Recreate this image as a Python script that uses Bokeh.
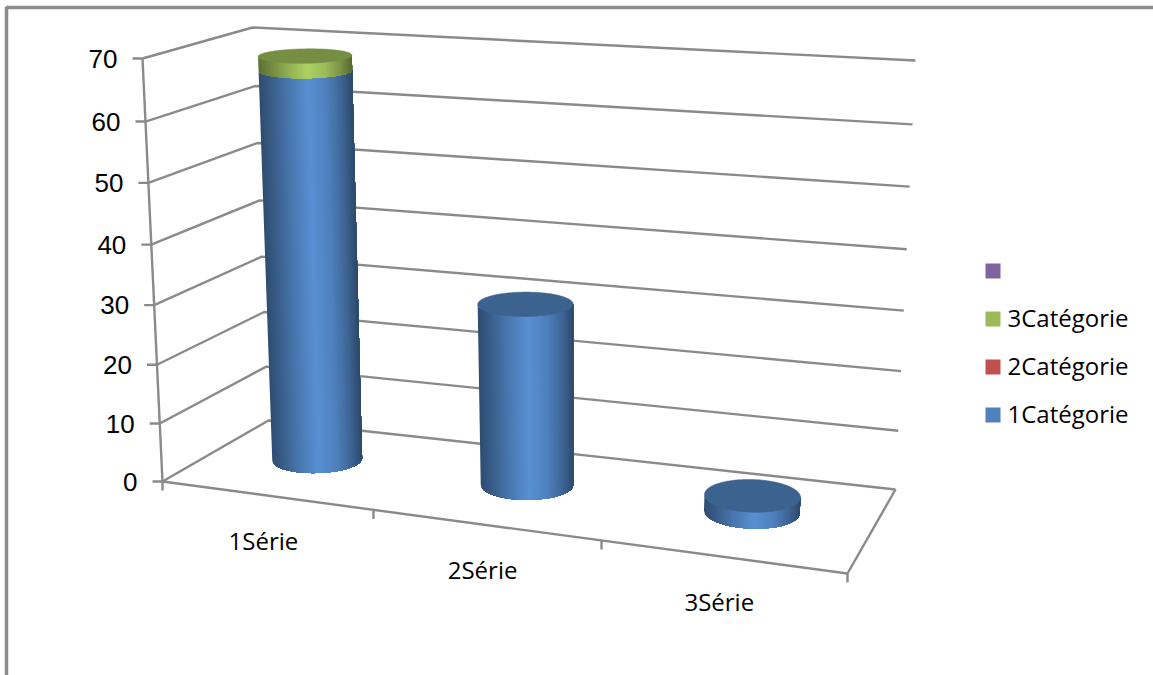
import numpy as np
from bokeh.core.properties import value
from bokeh.embed import file_html
from bokeh.models import ColumnDataSource
from bokeh.plotting import figure
from bokeh.resources import INLINE

# Chart data
categories = ["1Série", "2Série", "3Série"]
legend_labels = ["", "3Catégorie", "2Catégorie", "1Catégorie"]
legend_colors = ["#8064A2", "#9BBB59", "#C0504D", "#4F81BD"]
y_ticks = [0, 10, 20, 30, 40, 50, 60, 70]
categorie_1 = [66.2, 30.6, 2.7]
categorie_2 = [0.0, 0.0, 0.0]
categorie_3 = [2.4, 0.0, 0.0]
stack_series = [categorie_1, categorie_2, categorie_3]
stack_colors = ["#4F81BD", "#C0504D", "#9BBB59"]

GRID = "#8A8A8A"
W, H = 1153, 675

# Perspective of the chart box: one plane mapping for the floor, one for the ceiling,
# and the share of the height reached at each value axis tick.
# Plane coordinates: u along the categories, v into the depth.
PLANE_UV = [(0, 0), (1, 0), (1, 1), (0, 1)]
FLOOR_PAGE = [(162, 481), (847, 573), (895, 489), (268, 420)]
CEILING_PAGE = [(142, 58), (868, 111), (915, 60), (252, 27)]
HEIGHT_SHARE = [0, 0.137, 0.276, 0.417, 0.560, 0.706, 0.851, 1]
CATEGORY_TICK_PAGE = [(373, 509.3), (601, 540)]


def plane_map(uv, page):
    rows = []
    for (u, v), (x, y) in zip(uv, page):
        rows.append([u, v, 1, 0, 0, 0, -x * u, -x * v, -x])
        rows.append([0, 0, 0, u, v, 1, -y * u, -y * v, -y])
    return np.linalg.svd(np.array(rows, float))[2][-1].reshape(3, 3)


FLOOR = plane_map(PLANE_UV, FLOOR_PAGE)
CEILING = plane_map(PLANE_UV, CEILING_PAGE)

# Spacing along the categories follows the axis ticks on the front edge
floor_inverse = np.linalg.inv(FLOOR)
tick_u = []
for x, y in CATEGORY_TICK_PAGE:
    r = floor_inverse @ np.array([x, y, 1.0])
    tick_u.append(r[0] / r[2])
U_GRID = [0, 1 / 3, 2 / 3, 1]
U_STOPS = [0, tick_u[0], tick_u[1], 1]
# The ceiling leans a little differently, which keeps the column axes upright
LEAN_GRID = [0, 1 / 6, 1 / 2, 5 / 6, 1]
LEAN = [0, 0.0265, 0.034, 0.03, 0]


def apply_plane(m, u, v):
    r = m @ np.stack([u, v, np.ones_like(u)]).reshape(3, -1)
    return r[0] / r[2], r[1] / r[2]


def project(u, v, val):
    """Map plane coordinates and a height in chart units to page pixels."""
    u, v, val = np.broadcast_arrays(np.asarray(u, float), np.asarray(v, float), np.asarray(val, float))
    share = np.interp(val.ravel(), y_ticks, HEIGHT_SHARE)
    uf = np.interp(u.ravel(), U_GRID, U_STOPS)
    uc = uf + np.interp(u.ravel(), LEAN_GRID, LEAN)
    x0, y0 = apply_plane(FLOOR, uf, v.ravel())
    x1, y1 = apply_plane(CEILING, uc, v.ravel())
    return (x0 + share * (x1 - x0)).reshape(u.shape), (y0 + share * (y1 - y0)).reshape(u.shape)


p = figure(width=W, height=H, x_range=(0, W), y_range=(H, 0), min_border=0,
           toolbar_location=None, output_backend="svg", background_fill_color="white")
p.axis.visible = False
p.grid.visible = False
p.outline_line_color = None

# Frame around the chart area
p.line([6, 6, W], [H, 7, 7], line_color="#8C8C8C", line_width=3.5)

# Gridlines across the side wall and the back wall, plus the floor outline
Y_TOP = y_ticks[-1]
xs, ys = [], []
for t in y_ticks:
    gx, gy = project([0, 0, 1], [0, 1, 1], [t, t, t])
    xs.append(gx.tolist())
    ys.append(gy.tolist())
    # value axis tick
    xs.append([gx[0] - 10, gx[0]])
    ys.append([gy[0], gy[0]])
ax, ay = project([0, 0], [0, 0], [0, Y_TOP])
xs.append(ax.tolist()); ys.append(ay.tolist())
fx, fy = project([0, 1, 1], [0, 0, 1], [0, 0, 0])
xs.append(fx.tolist()); ys.append(fy.tolist())
for k in range(4):
    tx, ty = project(k / 3, 0, 0)
    xs.append([float(tx), float(tx)])
    ys.append([float(ty), float(ty) + 9])
p.multi_line(xs, ys, line_color=GRID, line_width=2.4)


def shade(hex_color, f):
    rgb = [int(hex_color[i:i + 2], 16) for i in (1, 3, 5)]
    return "#%02x%02x%02x" % tuple(min(255, int(c * f)) for c in rgb)


# Cylinders, stacked segment by segment. Each shading step paints from its own
# left edge through to the right silhouette, so neighbouring steps leave no seams.
RU, RV = 0.0665, 0.20
CV = 0.53
DU = -0.004
STOPS_T = [0, 0.12, 0.3, 0.52, 0.72, 0.88, 1]
STOPS_F = [0.60, 0.72, 0.92, 1.12, 1.0, 0.78, 0.56]
sx_list, sy_list, colors = [], [], []
top_x, top_y, top_c = [], [], []
for i in range(len(categories)):
    cu, cv = (i + 0.5) / 3 + DU, CV
    base = 0.0
    last_color = None
    for series, col in zip(stack_series, stack_colors):
        val = series[i]
        if val <= 0:
            continue
        full = np.linspace(0, 2 * np.pi, 721)
        fx0, _ = project(cu + RU * np.cos(full), cv + RV * np.sin(full), base + val / 2)
        a_left, a_right = full[np.argmin(fx0)], full[np.argmax(fx0)]
        if a_right < a_left:
            a_right += 2 * np.pi
        angles = np.linspace(a_left, a_right, 721)
        amid, _ = project(cu + RU * np.cos(angles), cv + RV * np.sin(angles), base + val / 2)
        even = np.arange(amid.min(), amid.max() + 1.0, 1.0)
        phi = np.interp(even, amid, angles)
        pu, pv = cu + RU * np.cos(phi), cv + RV * np.sin(phi)
        x0, y0 = project(pu, pv, base)
        x1, y1 = project(pu, pv, base + val)
        for a in range(len(phi) - 1):
            t = (a + 0.5) / (len(phi) - 1)
            colors.append(shade(col, float(np.interp(t, STOPS_T, STOPS_F))))
            sx_list.append(np.concatenate([x0[a:], x1[a:][::-1]]).tolist())
            sy_list.append(np.concatenate([y0[a:], y1[a:][::-1]]).tolist())
        base += val
        last_color = col
    circle = np.linspace(0, 2 * np.pi, 181)
    tx, ty = project(cu + RU * np.cos(circle), cv + RV * np.sin(circle), base)
    top_x.append(tx.tolist())
    top_y.append(ty.tolist())
    top_c.append(shade(last_color, 0.76))

side_src = ColumnDataSource(dict(x=sx_list, y=sy_list, c=colors))
p.patches("x", "y", source=side_src, fill_color="c", line_color=None)
p.patches(top_x, top_y, fill_color=top_c, line_color=top_c, line_width=0.5)

# Value axis labels
lx, ly = project(np.zeros(len(y_ticks)), np.zeros(len(y_ticks)), np.array(y_ticks, float))
p.text(lx - 25, ly, text=[str(t) for t in y_ticks], text_align="right", text_baseline="middle",
       text_font=value("Liberation Sans"), text_font_size=value("26px"), text_color="black")

# Category labels under the front edge
mx, my = project((np.arange(3) + 0.5) / 3, np.zeros(3), np.zeros(3))
p.text(mx - 1, my + 45, text=categories, text_align="center", text_baseline="middle",
       text_font=value("Open Sans"), text_font_size=value("24px"), text_color="black")

# Legend
leg_y = [270.5, 318.5, 366.5, 414.5]
p.rect([992.5] * 4, leg_y, width=15, height=15, fill_color=legend_colors, line_color=None)
p.text([1007] * 4, [y - 2 for y in leg_y], text=legend_labels, text_align="left", text_baseline="middle",
       text_font=value("Open Sans"), text_font_size=value("24px"), text_color="black")

with open("out.html", "w") as fh:
    fh.write(file_html(p, INLINE))
